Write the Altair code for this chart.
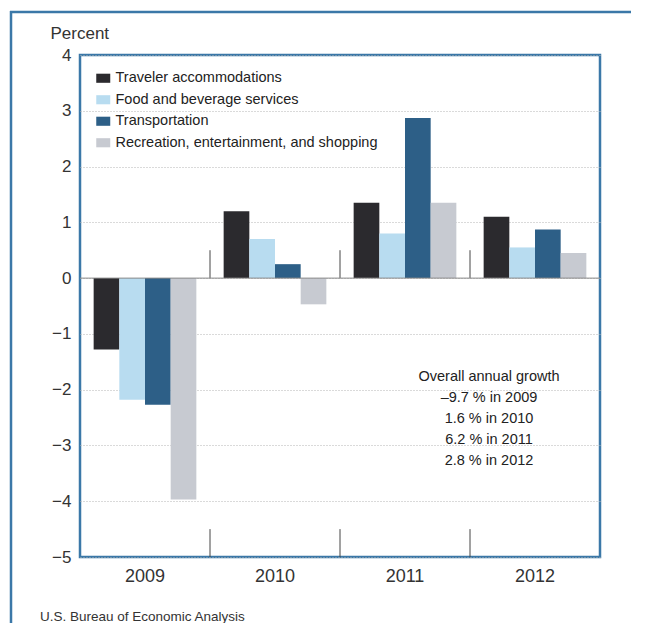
import altair as alt
import pandas as pd

years = ["2009", "2010", "2011", "2012"]
categories = [
    "Traveler accommodations",
    "Food and beverage services",
    "Transportation",
    "Recreation, entertainment, and shopping",
]
traveler = [-1.28, 1.2, 1.35, 1.1]
food = [-2.18, 0.7, 0.8, 0.55]
transport = [-2.27, 0.25, 2.87, 0.87]
recreation = [-3.97, -0.47, 1.35, 0.45]
overall_growth = [-9.7, 1.6, 6.2, 2.8]
colors = ["#2b2a2e", "#b8dcf0", "#2d5f87", "#c7cad1"]
y_ticks = [4, 3, 2, 1, 0, -1, -2, -3, -4, -5]
group_boundaries = [1, 2, 3]

REG = "Liberation Sans, Arial, Helvetica, sans-serif"
BLUE = "#3b78a8"

rows = []
for cat, vals in zip(categories, [traveler, food, transport, recreation]):
    for yr, v in zip(years, vals):
        rows.append({"year": yr, "category": cat, "value": v})
df = pd.DataFrame(rows)

sep_rows = []
for b in group_boundaries:
    sep_rows.append({"pos": b, "value": -5.0, "value2": -4.5})
    sep_rows.append({"pos": b, "value": 0.0, "value2": 0.5})
sep_df = pd.DataFrame(sep_rows)

growth_lines = ["Overall annual growth"] + [
    f"{g:.1f} % in {y}".replace("-", "\u2013") for g, y in zip(overall_growth, years)
]

yscale = alt.Scale(domain=[-5, 4], nice=False, zero=False)
yaxis = alt.Axis(
    values=y_ticks, title="Percent", titleAngle=0, titleAlign="left",
    titleBaseline="alphabetic", titleX=-30, titleY=-17,
    titleFontSize=17, titleFont=REG, titleFontWeight="normal", titleColor="#333",
    ticks=False, domain=False, labelFontSize=17, labelFont=REG,
    labelColor="#333", labelPadding=9,
    grid=True, gridDash=[1, 2], gridColor="#b5b5b5", gridWidth=1,
)

bars = alt.Chart(df).mark_bar().encode(
    x=alt.X(
        "year:N",
        sort=years,
        scale=alt.Scale(paddingInner=0.21, paddingOuter=0.105),
        axis=alt.Axis(
            title=None, ticks=False, domain=False, labelAngle=0,
            labelFontSize=18, labelFont=REG, labelColor="#333", labelPadding=10,
        ),
    ),
    xOffset=alt.XOffset("category:N", sort=categories,
                        scale=alt.Scale(paddingInner=0, paddingOuter=0)),
    y=alt.Y("value:Q", scale=yscale, axis=yaxis),
    color=alt.Color(
        "category:N",
        scale=alt.Scale(domain=categories, range=colors),
        legend=alt.Legend(
            title=None, orient="none", legendX=16, legendY=16, padding=0,
            symbolType="M-1,-0.65H1V0.65H-1Z", symbolSize=196,
            symbolStrokeWidth=0, labelFontSize=14.5, labelFont=REG,
            labelColor="#222", rowPadding=6.5, labelOffset=5, labelLimit=400,
        ),
    ),
)

seps = alt.Chart(sep_df).mark_rule(color="#444", strokeWidth=1).encode(
    x=alt.X("pos:Q", scale=alt.Scale(domain=[0, 4], nice=False), axis=None),
    y=alt.Y("value:Q", scale=yscale, axis=yaxis),
    y2="value2:Q",
)

zero = alt.Chart(pd.DataFrame({"value": [0]})).mark_rule(color="#888", strokeWidth=1).encode(
    y=alt.Y("value:Q", scale=yscale, axis=yaxis)
)

note = alt.Chart(pd.DataFrame({"a": [0]})).mark_text(
    align="center", baseline="middle", lineHeight=21, fontSize=14.5,
    font=REG, color="#222",
).encode(x=alt.value(409), y=alt.value(322), text=alt.value(growth_lines))

source = alt.Chart(pd.DataFrame({"a": [0]})).mark_text(
    align="left", baseline="middle", fontSize=13.5, font=REG, color="#333",
).encode(x=alt.value(-40), y=alt.value(562), text=alt.value("U.S. Bureau of Economic Analysis"))

frame_top = alt.Chart(pd.DataFrame({"a": [0]})).mark_rule(color=BLUE, strokeWidth=2.5).encode(
    x=alt.value(-70), x2=alt.value(560), y=alt.value(-43)
)
frame_left = alt.Chart(pd.DataFrame({"a": [0]})).mark_rule(color=BLUE, strokeWidth=2.5).encode(
    x=alt.value(-69), y=alt.value(-44), y2=alt.value(575)
)

chart = alt.layer(
    bars, seps, zero, note, source, frame_top, frame_left
).resolve_scale(x="independent").properties(
    width=520, height=502,
    padding={"left": 72, "top": 47, "right": 31, "bottom": 66},
    autosize=alt.AutoSizeParams(type="none"),
).configure(background="white").configure_view(stroke=BLUE, strokeWidth=2.5)

chart.save("out.html", embed_options={"renderer": "svg", "actions": False})
